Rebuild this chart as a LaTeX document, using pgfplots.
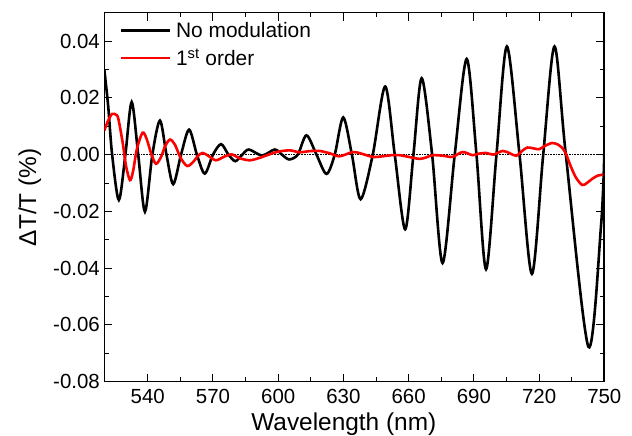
\documentclass[border=0pt]{standalone}
\usepackage{fontspec}
\setmainfont{Liberation Sans}
\usepackage{pgfplots}
\pgfplotsset{compat=1.18}
\usetikzlibrary{calc}
\begin{document}
\begin{tikzpicture}
\begin{axis}[
  name=ax,
  scale only axis,
  width=500bp, height=369bp,
  xmin=520, xmax=750, ymin=-0.08, ymax=0.05,
  xtick={540,570,600,630,660,690,720,750},
  ytick={-0.08,-0.06,-0.04,-0.02,0,0.02,0.04},
  yticklabels={-0.08,-0.06,-0.04,-0.02,0.00,0.02,0.04},
  scaled y ticks=false, scaled x ticks=false,
  minor x tick num=1, minor y tick num=1,
  tick align=inside,
  major tick length=8bp, minor tick length=4.5bp,
  axis line style={line width=1.2bp},
  every tick/.style={black, line width=1bp},
  /pgf/number format/assume math mode=true,
  xticklabel style={font=\fontsize{20.5}{24}\selectfont, yshift=-4bp},
  yticklabel style={font=\fontsize{20.5}{24}\selectfont, xshift=-1bp},
  xlabel={Wavelength (nm)},
  ylabel={ΔT/T (\%)},
  xlabel style={font=\fontsize{24.5}{28}\selectfont, at={(axis description cs:0.479,-0.131)}, anchor=base},
  ylabel style={font=\fontsize{24.5}{28}\selectfont, at={(axis description cs:-0.149,0.5)}, anchor=center},
  legend image code/.code={\draw[#1] (0bp,0bp) -- (49bp,0bp);},
  legend cell align=left,
  legend style={draw=none, fill=none, at={(axis description cs:0.03,0.98)}, anchor=north west,
    font=\fontsize{21}{25}\selectfont, inner sep=0pt, row sep=6bp, column sep=3bp,
    nodes={inner sep=2bp}},
]
\addplot[black, line width=0.6bp, densely dotted, forget plot] coordinates {(520,0) (750,0)};
\addplot[black, line width=2.6bp, smooth] coordinates {
(520.0,0.0300) (521.8,0.0170) (523.6,0.0000) (526.7,-0.0160) (529.7,0.0000)
(532.6,0.0185) (535.6,0.0000) (538.7,-0.0201) (542.1,0.0000) (545.6,0.0120)
(548.6,0.0000) (551.7,-0.0104) (555.3,0.0000) (559.0,0.0088) (562.6,0.0000)
(566.2,-0.0067) (570.0,0.0000) (573.7,0.0037) (577.1,0.0000) (580.3,-0.0023)
(583.5,0.0000) (586.5,0.0018) (592.6,-0.0003) (598.4,0.0018) (601.7,0.0000)
(605.0,-0.0017) (609.0,0.0000) (613.0,0.0068) (617.6,0.0000) (622.2,-0.0068)
(626.0,0.0000) (629.9,0.0131) (633.9,0.0000) (637.9,-0.0157) (643.5,0.0000)
(649.2,0.0240) (653.6,0.0000) (658.4,-0.0263) (662.2,0.0000) (666.0,0.0269)
(670.8,0.0000) (675.6,-0.0382) (681.2,0.0000) (686.7,0.0337) (691.2,0.0000)
(695.6,-0.0404) (700.4,0.0000) (705.2,0.0381) (711.0,0.0000) (716.7,-0.0420)
(721.9,0.0000) (727.1,0.0381) (732.3,0.0000) (742.7,-0.0677) (748.5,-0.0250)
(750.0,0.0000)
};
\addlegendentry{No modulation}
\addplot[red, line width=2.6bp, smooth] coordinates {
(520.0,0.0085) (521.5,0.0115) (523.5,0.0143) (525.5,0.0140) (526.5,0.0125)
(528.5,0.0040) (530.0,-0.0040) (531.8,-0.0090) (533.2,-0.0060) (535.0,0.0020)
(537.6,0.0077) (539.5,0.0055) (541.5,0.0005) (543.7,-0.0032) (546.0,-0.0010)
(548.0,0.0030) (550.2,0.0053) (552.5,0.0035) (555.0,-0.0010) (558.1,-0.0040)
(561.0,-0.0025) (563.0,-0.0005) (565.2,0.0006) (568.0,-0.0005) (571.3,-0.0020)
(575.0,-0.0008) (578.5,0.0001) (582.0,-0.0012) (586.9,-0.0020) (592.0,-0.0010)
(599.2,0.0009) (605.3,0.0015) (609.8,0.0008) (614.0,0.0012) (619.0,0.0013)
(624.0,0.0004) (628.2,-0.0006) (634.3,0.0009) (638.0,0.0004) (643.5,-0.0008)
(648.0,-0.0006) (652.0,-0.0002) (655.8,-0.0002) (660.0,-0.0008) (665.0,-0.0015)
(668.0,-0.0010) (671.1,-0.0002) (676.0,-0.0004) (680.2,-0.0008) (684.8,0.0009)
(689.4,-0.0002) (692.0,0.0003) (695.6,0.0006) (699.0,0.0000) (703.2,0.0013)
(706.5,0.0005) (709.5,-0.0004) (712.5,0.0015) (714.7,0.0025) (717.5,0.0022)
(720.0,0.0019) (722.5,0.0030) (726.0,0.0041) (728.8,0.0035) (730.5,0.0025)
(732.3,0.0004) (734.5,-0.0040) (736.9,-0.0080) (739.8,-0.0107) (742.0,-0.0100)
(744.5,-0.0085) (747.0,-0.0074) (750.0,-0.0070)
};
\addlegendentry{1\textsuperscript{st} order}
\draw[line width=2.2bp] (rel axis cs:1,0) -- (rel axis cs:1,1);
\end{axis}
\pgfresetboundingbox
\path ($(ax.south west)+(-104.3bp,-54.3bp)$) rectangle ($(ax.north east)+(27.7bp,12.7bp)$);
\end{tikzpicture}
\end{document}
